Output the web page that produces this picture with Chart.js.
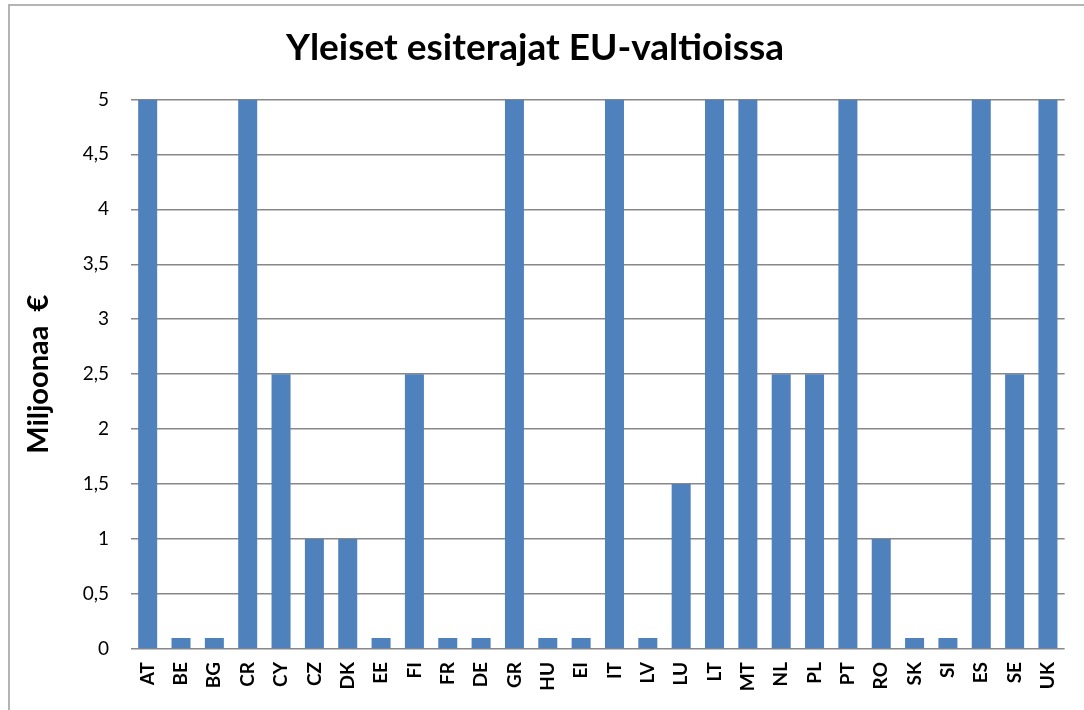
<!DOCTYPE html>
<html lang="fi">
<head>
  <meta charset="UTF-8" />
  <title>Yleiset esiterajat EU-valtioissa</title>
  <script src="https://cdn.jsdelivr.net/npm/chart.js"></script>
  <style>
    body {
      margin: 0;
      background: #ffffff;
      overflow: hidden;
    }
    .frame {
      position: absolute;
      left: 8px;
      top: 4px;
      width: 1100px;
      height: 720px;
      border: 2px solid #b4b4b4;
      pointer-events: none;
    }
    #chart {
      position: absolute;
      left: 0;
      top: 0;
    }
  </style>
</head>
<body>
  <canvas id="chart" width="1084" height="710"></canvas>
  <div class="frame"></div>

  <script>
    const countries = ['AT', 'BE', 'BG', 'CR', 'CY', 'CZ', 'DK', 'EE', 'FI', 'FR', 'DE', 'GR', 'HU', 'EI',
      'IT', 'LV', 'LU', 'LT', 'MT', 'NL', 'PL', 'PT', 'RO', 'SK', 'SI', 'ES', 'SE', 'UK'];
    const limits = [5, 0.1, 0.1, 5, 2.5, 1, 1, 0.1, 2.5, 0.1, 0.1, 5, 0.1, 0.1,
      5, 0.1, 1.5, 5, 5, 2.5, 2.5, 5, 1, 0.1, 0.1, 5, 2.5, 5];
    const yTicks = [0, 0.5, 1, 1.5, 2, 2.5, 3, 3.5, 4, 4.5, 5];

    const fontFamily = 'Lato, "Open Sans", sans-serif';

    new Chart(document.getElementById('chart').getContext('2d'), {
      type: 'bar',
      data: {
        labels: countries,
        datasets: [{
          label: 'Miljoonaa €',
          data: limits,
          backgroundColor: '#4F81BD',
          barPercentage: 0.57,
          categoryPercentage: 1
        }]
      },
      options: {
        responsive: false,
        animation: false,
        layout: { padding: { left: 0, right: 14, top: 0, bottom: 0 } },
        plugins: {
          legend: { display: false },
          tooltip: { enabled: false },
          title: {
            display: true,
            text: 'Yleiset esiterajat EU-valtioissa',
            color: '#000000',
            font: { family: fontFamily, size: 37, weight: 'bold' },
            padding: { top: 26, bottom: 29 }
          }
        },
        scales: {
          x: {
            grid: { display: false, drawTicks: false },
            border: { display: false },
            ticks: {
              color: '#000000',
              font: { family: fontFamily, size: 19, weight: 'bold' },
              minRotation: 90,
              maxRotation: 90,
              autoSkip: false,
              padding: 13
            },
            afterFit: scale => { scale.height = 61; }
          },
          y: {
            min: 0,
            max: 5,
            afterBuildTicks: scale => { scale.ticks = yTicks.map(v => ({ value: v })); },
            grid: { color: '#888888', lineWidth: 1.5, drawTicks: false },
            border: { display: false },
            ticks: {
              color: '#000000',
              font: { family: fontFamily, size: 19 },
              padding: 22,
              callback: v => String(v).replace('.', ',')
            },
            title: {
              display: true,
              text: 'Miljoonaa  €',
              color: '#000000',
              font: { family: fontFamily, size: 29, weight: 'bold' },
              padding: { top: 21, bottom: 0 }
            },
            afterFit: scale => { scale.width = 131; }
          }
        }
      }
    });
  </script>
</body>
</html>
